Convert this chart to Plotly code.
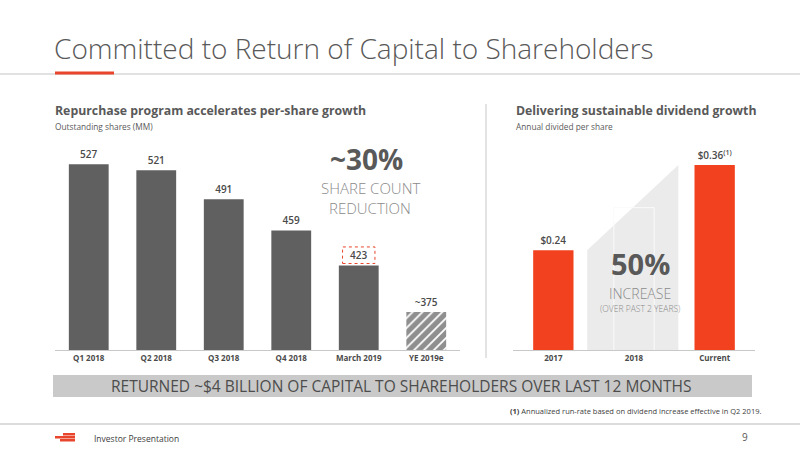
import plotly.graph_objs as go

# outstanding shares (MM)
share_periods = ['Q1 2018', 'Q2 2018', 'Q3 2018', 'Q4 2018', 'March 2019', 'YE 2019e']
share_values = [527, 521, 491, 459, 423, 375]
share_labels = ['527', '521', '491', '459', '423', '~375']

# annual dividend per share
div_years = ['2017', '2018', 'Current']
div_values = [0.24, 0.30, 0.36]
div_labels = ['$0.24', '', '$0.36<sup>(1)</sup>']

DARK = '#606060'
RED = '#f2411f'
TXT = '#4a4a4a'
FONT = 'Open Sans'
NARROW = 'Liberation Sans Narrow, Open Sans'


def px(x):
    return x / 800.0


def py(y):
    return 1 - y / 450.0


label_font = dict(family=FONT, size=10, color=TXT, weight=600)

# main bars, last one hatched as an estimate
trace0 = go.Bar(
    x=list(range(5)),
    y=share_values[:5],
    text=share_labels[:5],
    textposition='outside',
    cliponaxis=False,
    width=0.59,
    marker=dict(color=DARK, line=dict(width=0)),
    textfont=label_font,
    xaxis='x', yaxis='y',
    hoverinfo='skip'
)
trace1 = go.Bar(
    x=[5],
    y=share_values[5:],
    text=share_labels[5:],
    textposition='outside',
    cliponaxis=False,
    width=0.59,
    marker=dict(color='white', line=dict(width=0),
                pattern=dict(shape='/', fgcolor='#1f1f1f', bgcolor='white', size=7, solidity=0.75)),
    textfont=label_font,
    xaxis='x', yaxis='y',
    hoverinfo='skip'
)

# dividend bars: 2017 and current solid, 2018 only an outline
solid_idx = [i for i in range(3) if div_labels[i]]
trace2 = go.Bar(
    x=solid_idx,
    y=[div_values[i] for i in solid_idx],
    text=[div_labels[i] for i in solid_idx],
    textposition='outside',
    cliponaxis=False,
    width=0.5,
    marker=dict(color=RED, line=dict(width=0)),
    textfont=label_font,
    xaxis='x2', yaxis='y2',
    hoverinfo='skip'
)
trace3 = go.Bar(
    x=[1],
    y=[div_values[1]],
    width=0.5,
    marker=dict(color='rgba(0,0,0,0)', line=dict(width=1, color='#fafafa')),
    xaxis='x2', yaxis='y2',
    hoverinfo='skip'
)

data = [trace0, trace1, trace2, trace3]

y_lo_left = 336
y_lo_right = 0.10

# light wedge behind the 2018 bar, built from the dividend values
wedge = 'M 0.42,{b} L 0.42,{a} L 1.55,{c} L 1.55,{b} Z'.format(
    b=y_lo_right, a=div_values[0], c=div_values[2])

shapes = [
    dict(type='line', xref='paper', yref='paper', x0=0, x1=1, y0=py(74), y1=py(74),
         line=dict(color='#c4c4c4', width=1)),
    dict(type='line', xref='paper', yref='paper', x0=px(55), x1=px(114), y0=py(73), y1=py(73),
         line=dict(color='#e8452c', width=3)),
    dict(type='line', xref='paper', yref='paper', x0=px(486), x1=px(486), y0=py(104), y1=py(358),
         line=dict(color='#dadada', width=1.5)),
    dict(type='path', xref='x2', yref='y2', path=wedge, fillcolor='#ebebeb',
         line=dict(width=0), layer='below'),
    dict(type='rect', xref='x', yref='y', x0=4 - 0.24, x1=4 + 0.24,
         y0=share_values[4] + 2, y1=share_values[4] + 19,
         line=dict(color='#e8452c', width=1, dash='dot')),
    dict(type='rect', xref='paper', yref='paper', x0=px(53), x1=px(752), y0=py(397), y1=py(375),
         fillcolor='#c9c9c9', line=dict(width=0)),
    dict(type='line', xref='paper', yref='paper', x0=0, x1=1, y0=py(424), y1=py(424),
         line=dict(color='#dcdcdc', width=2)),
    dict(type='rect', xref='paper', yref='paper', x0=px(63), x1=px(75), y0=py(435.5), y1=py(433),
         fillcolor='#e8452c', line=dict(width=0)),
    dict(type='rect', xref='paper', yref='paper', x0=px(55), x1=px(75), y0=py(438.5), y1=py(436),
         fillcolor='#e8452c', line=dict(width=0)),
    dict(type='rect', xref='paper', yref='paper', x0=px(60), x1=px(75), y0=py(441.5), y1=py(439),
         fillcolor='#e8452c', line=dict(width=0)),
]


def note(text, x, y, size, color=TXT, weight=400, anchor='left', family=FONT):
    return dict(text=text, x=px(x), y=py(y), xref='paper', yref='paper',
                xanchor=anchor, yanchor='middle', showarrow=False,
                font=dict(family=family, size=size, color=color, weight=weight))


annotations = [
    note('Committed to Return of Capital to Shareholders', 52, 48, 28, '#595959', 300),
    note('Repurchase program accelerates per-share growth', 53, 110, 12.3, '#595959', 700),
    note('Outstanding shares (MM)', 53, 126, 8.3, '#595959'),
    note('Delivering sustainable dividend growth', 514, 110, 12.3, '#595959', 700),
    note('Annual divided per share', 514, 126, 8.3, '#595959'),
    note('~30%', 366, 159, 28, '#595959', 700, 'center'),
    note('SHARE COUNT', 370, 188, 15, '#8a8a8a', 300, 'center'),
    note('REDUCTION', 370, 208, 15, '#8a8a8a', 300, 'center'),
    note('50%', 640, 263, 29, '#595959', 700, 'center'),
    note('INCREASE', 640, 293, 14, '#8a8a8a', 300, 'center'),
    note('(OVER PAST 2 YEARS)', 640, 308, 8.5, '#8a8a8a', 300, 'center'),
    note('RETURNED ~$4 BILLION OF CAPITAL TO SHAREHOLDERS OVER LAST 12 MONTHS', 402, 386, 15.5,
         '#4d4d4d', 400, 'center', NARROW),
    note('<b>(1)</b> Annualized run-rate based on dividend increase effective in Q2 2019.', 763, 411, 7.5,
         '#404040', 400, 'right', NARROW),
    note('Investor Presentation', 92, 438, 8.5, '#404040', 400, 'left', NARROW),
    note('9', 750, 437, 10, '#595959', 400, 'right'),
]

axis_common = dict(showgrid=False, zeroline=False, showline=True, linecolor='#c8c8c8',
                   linewidth=1, ticks='', tickfont=dict(family=FONT, size=8, color=TXT, weight=700),
                   fixedrange=True)

layout = go.Layout(
    width=800, height=450,
    margin=dict(l=0, r=0, t=0, b=0),
    paper_bgcolor='white', plot_bgcolor='rgba(0,0,0,0)',
    showlegend=False,
    xaxis=dict(axis_common, domain=[px(55), px(460)], range=[-0.5, 5.5],
               tickvals=list(range(6)), ticktext=share_periods, anchor='y'),
    yaxis=dict(domain=[py(350), py(140)], range=[y_lo_left, 552], visible=False, anchor='x'),
    xaxis2=dict(axis_common, domain=[px(513), px(755)], range=[-0.5, 2.5],
                tickvals=list(range(3)), ticktext=div_years, anchor='y2'),
    yaxis2=dict(domain=[py(350), py(140)], range=[y_lo_right, 0.395], visible=False, anchor='x2'),
    shapes=shapes,
    annotations=annotations,
)

fig = go.Figure(data=data, layout=layout)
# drop the default page margin so the slide sits at the window corner
fig.write_html('out.html', config={'displayModeBar': False},
               post_script="document.body.style.margin='0';")
